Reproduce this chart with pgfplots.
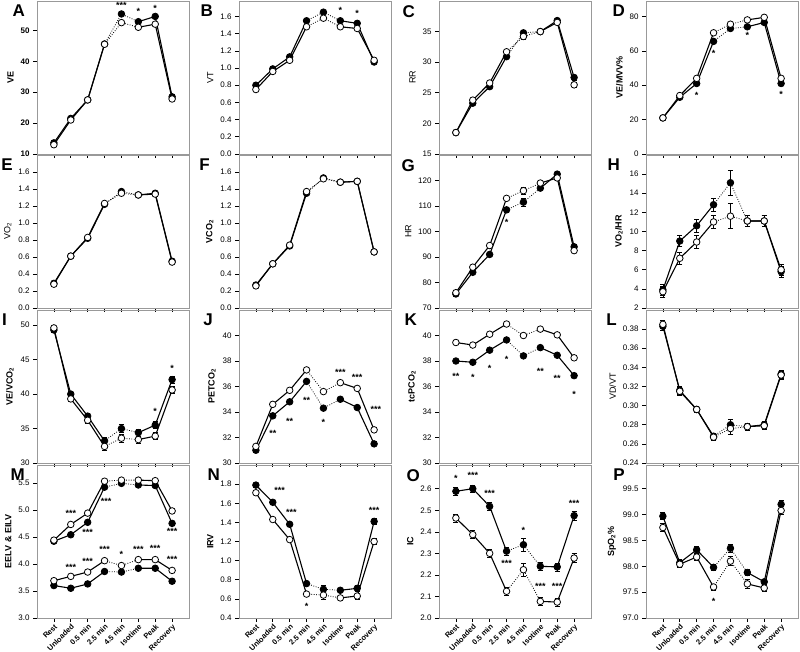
\documentclass[border=0pt]{standalone}
\usepackage{fontspec}
\setmainfont{Liberation Sans}
\usepackage{pgfplots}
\usepackage{pgfplotstable}
\pgfplotsset{compat=1.18}

\pgfplotstableread{
x b o be oe
0 13.6 13.0 0 0
1 21.5 21.0 0 0
2 27.5 27.5 0 0
3 45.6 45.5 0 0
4 55.3 52.5 0 0
5 52.8 51.0 0 0
6 54.5 52.0 0 0
7 28.5 27.8 0 0
}\tA
\pgfplotstableread{
x b o be oe
0 0.80 0.75 0 0
1 0.99 0.96 0 0
2 1.13 1.09 0 0
3 1.55 1.48 0 0
4 1.65 1.58 0 0
5 1.55 1.48 0 0
6 1.52 1.46 0 0
7 1.07 1.09 0 0
}\tB
\pgfplotstableread{
x b o be oe
0 18.5 18.5 0.3 0.3
1 23.3 23.8 0.3 0.3
2 26.0 26.6 0.3 0.3
3 30.9 31.7 0.3 0.3
4 34.8 34.2 0.4 0.4
5 35.0 35.0 0.3 0.3
6 36.8 36.5 0.3 0.3
7 27.5 26.3 0.4 0.4
}\tC
\pgfplotstableread{
x b o be oe
0 21.0 21.0 0 0
1 33.0 34.0 0 0
2 41.0 44.0 0 0
3 65.5 70.5 0 0
4 73.0 75.5 0 0
5 74.0 78.0 0 0
6 76.5 79.5 0 0
7 41.0 44.0 0 0
}\tD
\pgfplotstableread{
x b o be oe
0 0.29 0.28 0 0
1 0.61 0.61 0 0
2 0.82 0.83 0 0
3 1.22 1.23 0 0
4 1.37 1.35 0 0
5 1.33 1.33 0 0
6 1.35 1.34 0 0
7 0.55 0.54 0 0
}\tE
\pgfplotstableread{
x b o be oe
0 0.27 0.26 0 0
1 0.52 0.52 0 0
2 0.73 0.74 0 0
3 1.35 1.37 0 0
4 1.53 1.52 0 0
5 1.48 1.48 0 0
6 1.49 1.49 0 0
7 0.66 0.66 0 0
}\tF
\pgfplotstableread{
x b o be oe
0 75.5 76.0 0.8 0.8
1 84.0 86.0 0.8 0.8
2 91.0 94.5 0.8 0.8
3 108.5 113.0 0.8 0.8
4 111.5 116.0 1.5 1.5
5 117.0 119.0 0.8 0.8
6 122.5 121.0 0.8 0.8
7 94.0 92.5 0.8 0.8
}\tG
\pgfplotstableread{
x b o be oe
0 3.9 3.7 0.6 0.6
1 9.0 7.2 0.6 0.6
2 10.6 8.9 0.7 0.7
3 12.8 11.0 0.7 0.7
4 15.1 11.6 1.3 1.3
5 11.1 11.1 0.6 0.6
6 11.1 11.1 0.6 0.6
7 5.8 6.0 0.6 0.6
}\tH
\pgfplotstableread{
x b o be oe
0 49.3 49.6 0.4 0.4
1 40.0 39.3 0.4 0.4
2 36.8 36.2 0.4 0.4
3 33.2 32.4 0.5 0.5
4 35.0 33.6 0.6 0.6
5 34.4 33.4 0.5 0.5
6 35.5 33.9 0.5 0.5
7 42.1 40.6 0.5 0.5
}\tI
\pgfplotstableread{
x b o be oe
0 31.0 31.3 0 0
1 33.7 34.6 0 0
2 34.8 35.7 0 0
3 36.4 37.3 0 0
4 34.3 35.6 0 0
5 35.0 36.3 0 0
6 34.35 35.85 0 0
7 31.5 32.6 0 0
}\tJ
\pgfplotstableread{
x b o be oe
0 38.0 39.45 0 0
1 37.9 39.25 0 0
2 38.85 40.1 0 0
3 39.65 40.9 0 0
4 38.4 40.0 0 0
5 39.05 40.5 0 0
6 38.45 40.05 0 0
7 36.85 38.25 0 0
}\tK
\pgfplotstableread{
x b o be oe
0 0.383 0.385 0.004 0.004
1 0.316 0.315 0.004 0.004
2 0.296 0.296 0.003 0.003
3 0.268 0.267 0.003 0.003
4 0.280 0.276 0.006 0.006
5 0.278 0.278 0.004 0.004
6 0.280 0.279 0.004 0.004
7 0.333 0.332 0.004 0.004
}\tL
\pgfplotstableread{
x b o be oe
0 4.42 4.44 0.02 0.02
1 4.54 4.73 0.02 0.02
2 4.77 4.94 0.02 0.02
3 5.42 5.53 0.02 0.02
4 5.49 5.55 0.02 0.02
5 5.46 5.55 0.02 0.02
6 5.45 5.54 0.02 0.02
7 4.75 4.98 0.02 0.02
}\tMu
\pgfplotstableread{
x b o be oe
0 3.60 3.69 0.02 0.02
1 3.55 3.77 0.02 0.02
2 3.63 3.85 0.02 0.02
3 3.86 4.06 0.02 0.02
4 3.85 3.97 0.03 0.03
5 3.92 4.08 0.02 0.02
6 3.92 4.08 0.02 0.02
7 3.68 3.88 0.02 0.02
}\tMl
\pgfplotstableread{
x b o be oe
0 1.79 1.71 0.02 0.02
1 1.61 1.43 0.02 0.02
2 1.38 1.22 0.02 0.02
3 0.76 0.65 0.02 0.02
4 0.70 0.64 0.04 0.04
5 0.69 0.61 0.02 0.02
6 0.71 0.63 0.03 0.03
7 1.41 1.20 0.03 0.03
}\tN
\pgfplotstableread{
x b o be oe
0 2.588 2.464 0.018 0.018
1 2.600 2.387 0.018 0.018
2 2.518 2.300 0.020 0.020
3 2.310 2.124 0.018 0.018
4 2.340 2.224 0.030 0.030
5 2.240 2.077 0.018 0.018
6 2.237 2.074 0.018 0.018
7 2.475 2.278 0.020 0.020
}\tO
\pgfplotstableread{
x b o be oe
0 98.97 98.75 0.07 0.08
1 98.07 98.04 0.06 0.06
2 98.32 98.18 0.07 0.07
3 97.98 97.60 0.06 0.06
4 98.35 98.10 0.07 0.09
5 97.88 97.66 0.06 0.08
6 97.70 97.58 0.05 0.07
7 99.20 99.08 0.07 0.08
}\tP

\pgfplotsset{
  panel/.style={
    scale only axis, width=152pt, height=153pt,
    xmin=-1, xmax=8, xtick={0,...,7}, xticklabels={},
    tick align=outside, xtick pos=left, ytick pos=left,
    major tick length=4pt,
    axis line style={draw=gray!80, line width=0.8pt},
    tick style={black, line width=0.6pt},
    /pgf/number format/assume math mode=true,
    tick label style={font=\fontsize{8}{8}\selectfont},
    ylabel style={font=\fontsize{9}{9}\selectfont},
    clip=false, anchor=south west,
  },
  bottomrow/.style={
    xticklabels={Rest,Unloaded,0.5 min,2.5 min,4.5 min,Isotime,Peak,Recovery},
    xticklabel style={rotate=45, anchor=north east, font=\fontsize{7.5}{8}\selectfont\bfseries, inner sep=1pt},
  },
  ln/.style={black, line width=1.1pt, mark=none},
  dt/.style={black, line width=0.8pt, mark=none, dash pattern=on 0.8pt off 1.6pt},
  mk/.style={only marks, mark=*, mark size=3.3pt, black,
    mark options={solid, draw=black, fill=#1, line width=0.8pt},
    error bars/.cd, y dir=both, y explicit,
    error bar style={black, line width=0.6pt},
    error mark options={black, line width=0.6pt, mark size=2.6pt, rotate=90}},
}
\tikzset{
  st/.style={font=\fontsize{9}{9}\selectfont\bfseries, inner sep=0pt},
  lt/.style={anchor=north east, font=\fontsize{17}{17}\selectfont\bfseries, inner sep=0pt},
}

\newcommand{\series}[2]{%
  \addplot[ln, restrict x to domain=0:3] table[x=x,y=#1]{#2};
  \addplot[dt, restrict x to domain=3:5] table[x=x,y=#1]{#2};
  \addplot[ln, restrict x to domain=5:7] table[x=x,y=#1]{#2};
}
\newcommand{\pair}[1]{%
  \series{b}{#1}
  \series{o}{#1}
  \addplot[mk=black] table[x=x,y=b,y error=be]{#1};
  \addplot[mk=white] table[x=x,y=o,y error=oe]{#1};
}

\begin{document}
\begin{tikzpicture}
\useasboundingbox (0,0) rectangle (800pt,652pt);

% ---------- Row 1 ----------
\begin{axis}[panel, at={(37pt,498pt)}, ymin=10, ymax=59.5, ytick={10,20,30,40,50},
  tick label style={font=\fontsize{8}{8}\selectfont\bfseries},
  ylabel={\bfseries VE}]
\pair{\tA}
\node[st] at (axis cs:4,58.0) {***};
\node[st] at (axis cs:5,56.1) {*};
\node[st] at (axis cs:6,57.1) {*};
\node[lt] at (rel axis cs:0,1) [xshift=-12pt, yshift=-4pt] {A};
\end{axis}

\begin{axis}[panel, at={(239pt,498pt)}, ymin=0, ymax=1.78, ytick={0,0.2,0.4,0.6,0.8,1.0,1.2,1.4,1.6},
  yticklabel style={/pgf/number format/.cd, fixed, fixed zerofill, precision=1},
  ylabel={VT}]
\pair{\tB}
\node[st] at (axis cs:5,1.67) {*};
\node[st] at (axis cs:6,1.64) {*};
\node[lt] at (rel axis cs:0,1) [xshift=-26pt, yshift=-4pt] {B};
\end{axis}

\begin{axis}[panel, at={(439pt,498pt)}, ymin=15, ymax=40, ytick={15,20,25,30,35},
  ylabel={RR}]
\pair{\tC}
\node[lt] at (rel axis cs:0,1) [xshift=-24pt, yshift=-4pt] {C};
\end{axis}

\begin{axis}[panel, at={(646pt,498pt)}, ymin=0, ymax=89, ytick={0,20,40,60,80},
  ylabel={\bfseries VE/MVV\%}]
\pair{\tD}
\node[st] at (axis cs:2,34.0) {*};
\node[st] at (axis cs:3,58.5) {*};
\node[st] at (axis cs:5,69.0) {*};
\node[st] at (axis cs:7,34.8) {*};
\node[lt] at (rel axis cs:0,1) [xshift=-21pt, yshift=-4pt] {D};
\end{axis}

% ---------- Row 2 ----------
\begin{axis}[panel, at={(37pt,344pt)}, ymin=0, ymax=1.8, ytick={0,0.2,0.4,0.6,0.8,1.0,1.2,1.4,1.6},
  yticklabel style={/pgf/number format/.cd, fixed, fixed zerofill, precision=1},
  ylabel={VO\textsubscript{2}}]
\pair{\tE}
\node[lt] at (rel axis cs:0,1) [xshift=-24pt, yshift=-4pt] {E};
\end{axis}

\begin{axis}[panel, at={(239pt,344pt)}, ymin=0, ymax=1.8, ytick={0,0.2,0.4,0.6,0.8,1.0,1.2,1.4,1.6},
  yticklabel style={/pgf/number format/.cd, fixed, fixed zerofill, precision=1},
  ylabel={\bfseries VCO\textsubscript{2}}]
\pair{\tF}
\node[lt] at (rel axis cs:0,1) [xshift=-29pt, yshift=-4pt] {F};
\end{axis}

\begin{axis}[panel, at={(439pt,344pt)}, ymin=70, ymax=130, ytick={70,80,90,100,110,120},
  ylabel={HR}]
\pair{\tG}
\node[st] at (axis cs:3,103.5) {*};
\node[lt] at (rel axis cs:0,1) [xshift=-24pt, yshift=-4pt] {G};
\end{axis}

\begin{axis}[panel, at={(646pt,344pt)}, ymin=2, ymax=18, ytick={2,4,6,8,10,12,14,16},
  ylabel={\bfseries VO\textsubscript{2}/HR}]
\pair{\tH}
\node[lt] at (rel axis cs:0,1) [xshift=-26pt, yshift=-4pt] {H};
\end{axis}

% ---------- Row 3 ----------
\begin{axis}[panel, at={(37pt,189pt)}, ymin=30, ymax=52.2, ytick={30,35,40,45,50},
  ylabel={\bfseries VE/VCO\textsubscript{2}}]
\pair{\tI}
\node[st] at (axis cs:6,37.5) {*};
\node[st] at (axis cs:7,43.7) {*};
\node[lt] at (rel axis cs:0,1) [xshift=-30pt, yshift=-4pt] {I};
\end{axis}

\begin{axis}[panel, at={(239pt,189pt)}, ymin=30, ymax=42, ytick={30,32,34,36,38,40},
  ylabel={\bfseries PETCO\textsubscript{2}}]
\pair{\tJ}
\node[st] at (axis cs:1,32.3) {**};
\node[st] at (axis cs:2,33.3) {**};
\node[st] at (axis cs:3,34.9) {**};
\node[st] at (axis cs:4,33.2) {*};
\node[st] at (axis cs:5,37.1) {***};
\node[st] at (axis cs:6,36.7) {***};
\node[st] at (axis cs:7.1,34.2) {***};
\node[lt] at (rel axis cs:0,1) [xshift=-26pt, yshift=-4pt] {J};
\end{axis}

\begin{axis}[panel, at={(439pt,189pt)}, ymin=30, ymax=42, ytick={30,32,34,36,38,40},
  ylabel={\bfseries tcPCO\textsubscript{2}}]
\pair{\tK}
\node[st] at (axis cs:0,36.8) {**};
\node[st] at (axis cs:1,36.7) {*};
\node[st] at (axis cs:2,37.4) {*};
\node[st] at (axis cs:3,38.1) {*};
\node[st] at (axis cs:5,37.2) {**};
\node[st] at (axis cs:6,36.65) {**};
\node[st] at (axis cs:7,35.4) {*};
\node[lt] at (rel axis cs:0,1) [xshift=-22pt, yshift=-4pt] {K};
\end{axis}

\begin{axis}[panel, at={(646pt,189pt)}, ymin=0.24, ymax=0.40, ytick={0.24,0.26,0.28,0.30,0.32,0.34,0.36,0.38},
  yticklabel style={/pgf/number format/.cd, fixed, fixed zerofill, precision=2},
  ylabel={VD/VT}]
\pair{\tL}
\node[lt] at (rel axis cs:0,1) [xshift=-29pt, yshift=-4pt] {L};
\end{axis}

% ---------- Row 4 ----------
\begin{axis}[panel, bottomrow, at={(37pt,34pt)}, ymin=3, ymax=5.83, ytick={3,3.5,4,4.5,5,5.5},
  yticklabel style={/pgf/number format/.cd, fixed, fixed zerofill, precision=1},
  ylabel={\bfseries EELV \& EILV}]
\pair{\tMu}
\pair{\tMl}
\node[st] at (axis cs:1,4.93) {***};
\node[st] at (axis cs:2,4.58) {***};
\node[st] at (axis cs:3.1,5.15) {***};
\node[st] at (axis cs:7,4.60) {***};
\node[st] at (axis cs:1,3.94) {***};
\node[st] at (axis cs:2,4.05) {***};
\node[st] at (axis cs:3,4.26) {***};
\node[st] at (axis cs:4,4.17) {*};
\node[st] at (axis cs:5,4.26) {***};
\node[st] at (axis cs:6,4.28) {***};
\node[st] at (axis cs:7,4.08) {***};
\node[lt] at (rel axis cs:0,1) [xshift=-12pt, yshift=-4pt] {M};
\end{axis}

\begin{axis}[panel, bottomrow, at={(239pt,34pt)}, ymin=0.4, ymax=2.0, ytick={0.4,0.6,0.8,1.0,1.2,1.4,1.6,1.8},
  yticklabel style={/pgf/number format/.cd, fixed, fixed zerofill, precision=1},
  ylabel={\bfseries IRV}]
\pair{\tN}
\node[st] at (axis cs:1.4,1.73) {***};
\node[st] at (axis cs:2.1,1.50) {***};
\node[st] at (axis cs:3,0.52) {*};
\node[st] at (axis cs:7,1.53) {***};
\node[lt] at (rel axis cs:0,1) [xshift=-19pt, yshift=-4pt] {N};
\end{axis}

\begin{axis}[panel, bottomrow, at={(439pt,34pt)}, ymin=2.0, ymax=2.71, ytick={2.0,2.1,2.2,2.3,2.4,2.5,2.6},
  yticklabel style={/pgf/number format/.cd, fixed, fixed zerofill, precision=1},
  ylabel={\bfseries IC}]
\pair{\tO}
\node[st] at (axis cs:0,2.65) {*};
\node[st] at (axis cs:1,2.66) {***};
\node[st] at (axis cs:2,2.58) {***};
\node[st] at (axis cs:3,2.255) {***};
\node[st] at (axis cs:4,2.405) {*};
\node[st] at (axis cs:5,2.145) {***};
\node[st] at (axis cs:6,2.145) {***};
\node[st] at (axis cs:7,2.53) {***};
\node[lt] at (rel axis cs:0,1) [xshift=-19pt, yshift=-4pt] {O};
\end{axis}

\begin{axis}[panel, bottomrow, at={(646pt,34pt)}, ymin=97, ymax=99.96, ytick={97,97.5,98,98.5,99,99.5},
  yticklabel style={/pgf/number format/.cd, fixed, fixed zerofill, precision=1},
  ylabel={\bfseries SpO\textsubscript{2}\%}]
\pair{\tP}
\node[st] at (axis cs:3,97.33) {*};
\node[lt] at (rel axis cs:0,1) [xshift=-21pt, yshift=-4pt] {P};
\end{axis}
\end{tikzpicture}
\end{document}
